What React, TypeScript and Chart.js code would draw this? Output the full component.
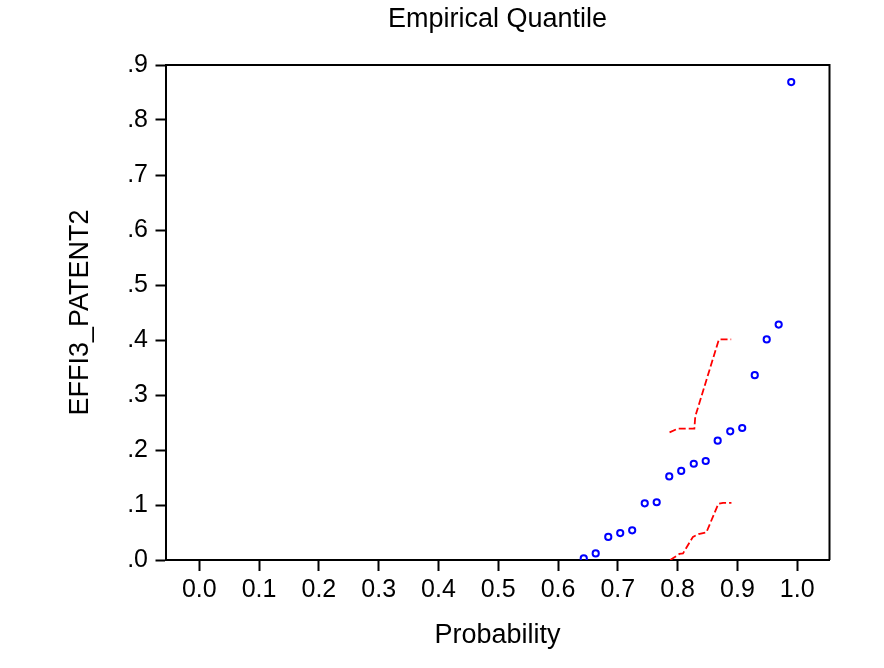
import React, { useEffect, useRef } from "react";
import { Chart, registerables } from "chart.js";

Chart.register(...registerables);

// Empirical quantiles (probability, EFFI3_PATENT2)
const probs = [0.643, 0.663, 0.684, 0.704, 0.724, 0.745, 0.765, 0.786, 0.806, 0.827, 0.847, 0.867, 0.888, 0.908, 0.929, 0.949, 0.969, 0.990];
const quantiles = [0.003, 0.012, 0.042, 0.049, 0.054, 0.103, 0.105, 0.152, 0.162, 0.175, 0.180, 0.217, 0.234, 0.240, 0.336, 0.401, 0.428, 0.869];

// Upper confidence band
const upperX = [0.7865, 0.8005, 0.828, 0.8295, 0.869, 0.8896];
const upperY = [0.232, 0.239, 0.239, 0.261, 0.401, 0.401];

// Lower confidence band
const lowerX = [0.7876, 0.803, 0.809, 0.8256, 0.835, 0.848, 0.868, 0.876, 0.890];
const lowerY = [0.0, 0.011, 0.012, 0.042, 0.047, 0.050, 0.102, 0.104, 0.104];

const xTickValues = [0, 0.1, 0.2, 0.3, 0.4, 0.5, 0.6, 0.7, 0.8, 0.9, 1.0];
const yTickValues = [0, 0.1, 0.2, 0.3, 0.4, 0.5, 0.6, 0.7, 0.8, 0.9];

const FONT = "'Liberation Sans', Arial, sans-serif";

export default function App() {
  const ref = useRef<HTMLCanvasElement | null>(null);

  useEffect(() => {
    const canvas = ref.current;
    if (!canvas) return;

    const framePlugin = {
      id: "frame",
      afterDraw(chart: any) {
        const { ctx, chartArea } = chart;
        ctx.save();
        ctx.strokeStyle = "#000";
        ctx.lineWidth = 2;
        ctx.beginPath();
        ctx.moveTo(chartArea.left, chartArea.top);
        ctx.lineTo(chartArea.right, chartArea.top);
        ctx.lineTo(chartArea.right, chartArea.bottom);
        ctx.stroke();
        ctx.restore();
      },
    };

    const chart = new Chart(canvas, {
      type: "scatter",
      data: {
        datasets: [
          {
            label: "Upper",
            data: upperX.map((x, i) => ({ x, y: upperY[i] })),
            showLine: true,
            borderColor: "#ff0000",
            borderWidth: 1.8,
            borderDash: [7, 3],
            pointRadius: 0,
            fill: false,
          },
          {
            label: "Lower",
            data: lowerX.map((x, i) => ({ x, y: lowerY[i] })),
            showLine: true,
            borderColor: "#ff0000",
            borderWidth: 1.8,
            borderDash: [7, 3],
            pointRadius: 0,
            fill: false,
          },
          {
            label: "EFFI3_PATENT2",
            data: probs.map((x, i) => ({ x, y: quantiles[i] })),
            showLine: false,
            pointStyle: "circle",
            pointRadius: 3.1,
            pointBorderWidth: 2,
            pointBorderColor: "#0000ff",
            pointBackgroundColor: "rgba(0,0,0,0)",
            borderColor: "#0000ff",
            backgroundColor: "rgba(0,0,0,0)",
          },
        ],
      },
      options: {
        responsive: false,
        animation: false,
        devicePixelRatio: 1,
        layout: { padding: { left: 0, right: 54.5, top: 0, bottom: 0 } },
        plugins: {
          legend: { display: false },
          tooltip: { enabled: false },
          title: {
            display: true,
            text: "Empirical Quantile",
            fullSize: false,
            color: "#000",
            font: { family: FONT, size: 27, weight: "normal", lineHeight: 1.2 },
            padding: { top: 3.4, bottom: 29.2 },
          },
        },
        scales: {
          x: {
            type: "linear",
            position: "bottom",
            min: -0.0565,
            max: 1.054,
            afterFit(scale: any) {
              scale.height = 108;
            },
            afterBuildTicks(scale: any) {
              scale.ticks = xTickValues.map((v) => ({ value: v }));
            },
            ticks: {
              includeBounds: false,
              color: "#000",
              padding: 4,
              maxRotation: 0,
              autoSkip: false,
              font: { family: FONT, size: 25, lineHeight: 1.2 },
              callback: (v: any) => Number(v).toFixed(1),
            },
            grid: {
              drawOnChartArea: false,
              drawTicks: true,
              tickLength: 11,
              tickWidth: 2,
              tickColor: "#000",
            },
            border: { display: true, color: "#000", width: 2 },
            title: {
              display: true,
              text: "Probability",
              color: "#000",
              font: { family: FONT, size: 27, lineHeight: 1.2 },
              padding: { top: 0, bottom: 15.8 },
            },
          },
          y: {
            type: "linear",
            position: "left",
            min: 0,
            max: 0.9,
            afterFit(scale: any) {
              scale.width = 165.5;
            },
            afterBuildTicks(scale: any) {
              scale.ticks = yTickValues.map((v) => ({ value: v }));
            },
            ticks: {
              includeBounds: false,
              color: "#000",
              padding: 7.5,
              autoSkip: false,
              font: { family: FONT, size: 25, lineHeight: 1.2 },
              callback: (v: any) => Number(v).toFixed(1).replace(/^0/, ""),
            },
            grid: {
              drawOnChartArea: false,
              drawTicks: true,
              tickLength: 10,
              tickWidth: 2,
              tickColor: "#000",
            },
            border: { display: true, color: "#000", width: 2 },
            title: {
              display: true,
              text: "EFFI3_PATENT2",
              color: "#000",
              font: { family: FONT, size: 27, lineHeight: 1.2 },
              padding: { top: 64.8, bottom: 0 },
            },
          },
        },
      },
      plugins: [framePlugin],
    } as any);

    return () => chart.destroy();
  }, []);

  return (
    <div style={{ position: "absolute", left: 0, top: 0, width: 884, height: 668, background: "#fff" }}>
      <canvas ref={ref} width={884} height={668} style={{ width: 884, height: 668, display: "block" }} />
    </div>
  );
}
